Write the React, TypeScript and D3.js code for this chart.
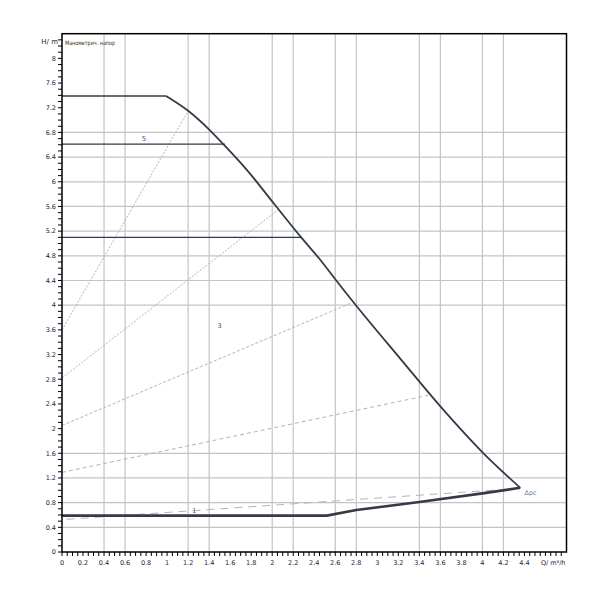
import React from "react";
import * as d3 from "d3";

const xTickValues = [0, 0.2, 0.4, 0.6, 0.8, 1, 1.2, 1.4, 1.6, 1.8, 2, 2.2, 2.4, 2.6, 2.8, 3, 3.2, 3.4, 3.6, 3.8, 4, 4.2, 4.4];
const yTickValues = [0, 0.4, 0.8, 1.2, 1.6, 2, 2.4, 2.8, 3.2, 3.6, 4, 4.4, 4.8, 5.2, 5.6, 6, 6.4, 6.8, 7.2, 7.6, 8];
const xGridValues = [0.4, 0.6, 1.2, 1.4, 2, 2.2, 2.6, 2.8, 3.4, 3.6, 4, 4.2];
const yGridValues = [0.4, 0.8, 1.2, 1.6, 4, 4.4, 4.8, 5.2, 5.6, 6, 6.4, 6.8];

// Max curve: flat part, then falling part
const maxFlat: [number, number][] = [[0, 7.39], [0.99, 7.39]];
const maxFall: [number, number][] = [
  [0.99, 7.39], [1.2, 7.15], [1.41, 6.83], [1.54, 6.6], [1.76, 6.19],
  [2.01, 5.66], [2.28, 5.09], [2.455, 4.74], [2.6, 4.42], [2.8, 3.99], [3.22, 3.13],
  [3.6, 2.36], [4.01, 1.6], [4.36, 1.04],
];
// Min curve (returns from end point)
const minCurve: [number, number][] = [
  [4.36, 1.04], [4.0, 0.95], [3.4, 0.81], [2.8, 0.68], [2.52, 0.59], [0, 0.59],
];
// Horizontal constant-pressure lines
const hLines: { y: number; x1: number; x2: number; label?: string; lx?: number }[] = [
  { y: 6.61, x1: 0, x2: 1.55, label: "5", lx: 0.78 },
  { y: 5.1, x1: 0, x2: 2.28 },
];
// Proportional / system lines
const sysLines: { p: [number, number][]; dash: string }[] = [
  { p: [[0, 3.6], [1.2, 7.15]], dash: "2,1.5" },
  { p: [[0, 2.82], [2.074, 5.57]], dash: "2,1.5" },
  { p: [[0, 2.05], [2.757, 4.04]], dash: "3,2" },
  { p: [[0, 1.29], [3.485, 2.54]], dash: "4,3" },
  { p: [[0.045, 0.53], [4.34, 1.03]], dash: "8,6" },
];
const curveLabels: { x: number; y: number; t: string; c: string }[] = [
  { x: 1.24, y: 0.64, t: "1", c: "#6a5a30" },
  { x: 1.48, y: 3.63, t: "3", c: "#444" },
  { x: 4.4, y: 0.92, t: "Δpc", c: "#6a7fa0" },
];

const L = 62, R = 566.5, T = 33.7, B = 552;
const xMax = 4.8, yMax = 8.4;

export default function App() {
  const x = d3.scaleLinear().domain([0, xMax]).range([L, R]);
  const y = d3.scaleLinear().domain([0, yMax]).range([B, T]);
  const line = d3.line<[number, number]>().x((d) => x(d[0])).y((d) => y(d[1]));
  const smooth = d3.line<[number, number]>().x((d) => x(d[0])).y((d) => y(d[1])).curve(d3.curveMonotoneX);
  const xMinor = d3.range(0, 4.76, 0.05);
  const yMinor = d3.range(0, 8.31, 0.1);
  const font = "'DejaVu Sans', sans-serif";
  const fmt = (v: number) => String(+v.toFixed(1));

  return (
    <svg width={600} height={600} style={{ position: "absolute", left: 0, top: 0, background: "#fff" }} fontFamily={font}>
      <rect x={0} y={0} width={600} height={600} fill="#fff" />
      {/* grid */}
      {xGridValues.map((v) => (
        <line key={"gx" + v} x1={x(v)} x2={x(v)} y1={T} y2={B} stroke="#c4c4c4" strokeWidth={1.2} />
      ))}
      {yGridValues.map((v) => (
        <line key={"gy" + v} x1={L} x2={R} y1={y(v)} y2={y(v)} stroke="#c4c4c4" strokeWidth={1.2} />
      ))}
      {/* system lines */}
      {sysLines.map((s, i) => (
        <path key={"s" + i} d={line(s.p) || ""} fill="none" stroke="#b4b4b4" strokeWidth={1} strokeDasharray={s.dash} />
      ))}
      {/* horizontal lines */}
      {hLines.map((h, i) => (
        <g key={"h" + i}>
          <line x1={x(h.x1)} x2={x(h.x2)} y1={y(h.y)} y2={y(h.y)} stroke="#2c3a50" strokeWidth={1.2} />
          {h.label && (
            <text x={x(h.lx!)} y={y(h.y) - 3} fontSize={7} fill="#2a5ca8" textAnchor="middle">{h.label}</text>
          )}
        </g>
      ))}
      {/* curves */}
      <path d={line(maxFlat) || ""} fill="none" stroke="#343b46" strokeWidth={1.3} />
      <path d={smooth(maxFall) || ""} fill="none" stroke="#343b46" strokeWidth={1.8} />
      <path d={line(minCurve) || ""} fill="none" stroke="#343b46" strokeWidth={2.6} />
      {curveLabels.map((c, i) => (
        <text key={"cl" + i} x={x(c.x)} y={y(c.y)} fontSize={6.5} fill={c.c}>{c.t}</text>
      ))}
      {/* frame */}
      <rect x={L} y={T} width={R - L} height={B - T} fill="none" stroke="#000" strokeWidth={1.5} />
      {/* y ticks */}
      {yMinor.map((v, i) => (
        <line key={"ym" + i} x1={L - 4} x2={L} y1={y(v)} y2={y(v)} stroke="#000" strokeWidth={1} />
      ))}
      {yTickValues.map((v) => (
        <text key={"yt" + v} x={L - 6} y={y(v) + 2.3} fontSize={6.5} textAnchor="end" fill="#1a2440">{fmt(v)}</text>
      ))}
      {/* x ticks */}
      {xMinor.map((v, i) => (
        <line key={"xm" + i} x1={x(v)} x2={x(v)} y1={B} y2={B + 4} stroke="#000" strokeWidth={1} />
      ))}
      {xTickValues.map((v) => (
        <text key={"xt" + v} x={x(v)} y={B + 13} fontSize={6.5} textAnchor="middle" fill="#1a2440">{fmt(v)}</text>
      ))}
      {/* axis titles */}
      <text x={L - 4} y={44} fontSize={7} textAnchor="end" fill="#1a2440">H/ m</text>
      <text x={R - 1} y={B + 13} fontSize={6.5} textAnchor="end" fill="#1a2440">Q/ m³/h</text>
      <text x={L + 3} y={45} fontSize={6} textLength={50} lengthAdjust="spacingAndGlyphs" fill="#3a3010">Манометрич. напор</text>
    </svg>
  );
}
